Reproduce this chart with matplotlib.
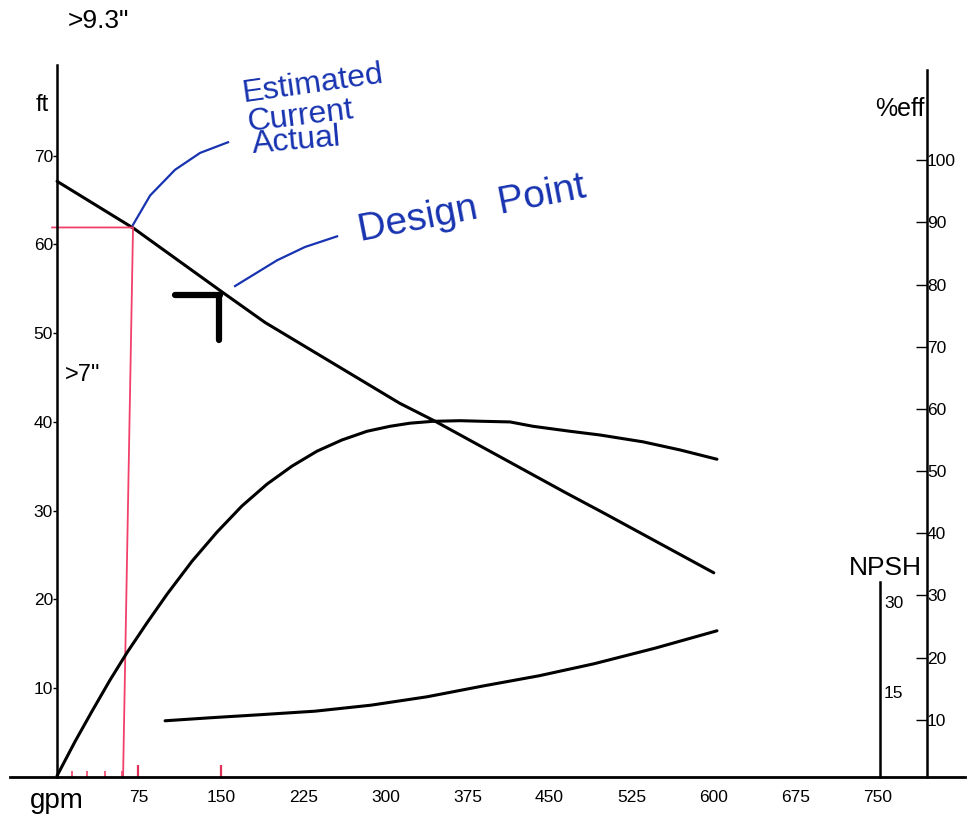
import matplotlib.pyplot as plt

plt.rcParams['font.family'] = ['Liberation Sans', 'DejaVu Sans']

# eixo x (gpm)
gpm_ticks = [75, 150, 225, 300, 375, 450, 525, 600, 675, 750]
ft_ticks = [10, 20, 30, 40, 50, 60, 70]
eff_ticks = [10, 20, 30, 40, 50, 60, 70, 80, 90, 100]
npsh_ticks = [15, 30]

# curva de altura (ft)
head_gpm = [0, 70, 150, 190, 313, 345, 465, 500, 600]
head_ft = [67.1, 61.8, 54.7, 51.2, 42.1, 40.1, 32.0, 29.7, 23.0]

# curva de eficiencia (%)
eff_gpm = [0, 16.4, 32.0, 48.4, 63.9, 82.2, 100.5, 123.3, 146.2, 169.0, 191.8, 214.7,
           237.5, 260.3, 283.2, 304.2, 322.5, 343.5, 368.2, 389.2, 413.8, 434.8,
           468.6, 496.0, 535.3, 569.1, 602.9]
eff_pct = [1.0, 6.5, 11.4, 16.4, 20.8, 25.6, 30.2, 35.5, 40.2, 44.4, 47.9, 50.8,
           53.2, 55.0, 56.4, 57.2, 57.7, 58.0, 58.1, 58.0, 57.9, 57.2,
           56.4, 55.8, 54.7, 53.4, 51.9]

# curva NPSH (ft)
npsh_gpm = [98.7, 139.8, 184.5, 235.7, 286.8, 338.0, 389.2, 440.3, 490.5, 546.3, 602.9]
npsh_ft = [10.2, 10.7, 11.2, 11.8, 12.8, 14.2, 16.0, 17.7, 19.7, 22.3, 25.2]

# marcas a mao
red_gpm = [-4.5, 69.4, 60.3]
red_ft = [61.9, 61.9, 0]
red_small_ticks = [14, 27, 44, 59]
red_big_ticks = [74, 150]
tee_h_gpm = [108, 149]
tee_h_ft = [54.3, 54.3]
tee_v_gpm = [148, 148]
tee_v_ft = [54.3, 49.2]
lead1_gpm = [69.4, 85.0, 107.8, 130.7, 156.2]
lead1_ft = [62.2, 65.5, 68.4, 70.3, 71.5]
lead2_gpm = [162.6, 201.0, 226.5, 255.8]
lead2_ft = [55.3, 58.2, 59.7, 60.9]

fig = plt.figure(figsize=(9.72, 8.15), dpi=100)
ax = fig.add_axes([10 / 972, 38 / 815, 955 / 972, 712 / 815])
ax.set_xlim(-43, 829.5)
ax.set_ylim(0, 80.2)

for s in ['top', 'right']:
    ax.spines[s].set_visible(False)
ax.spines['left'].set_position(('data', 0))
ax.spines['left'].set_linewidth(1.8)
ax.spines['bottom'].set_linewidth(2.0)

ax.set_xticks(gpm_ticks)
ax.set_xticklabels([str(v) for v in gpm_ticks], fontsize=12.5)
ax.tick_params(axis='x', length=0, pad=9)
ax.set_yticks(ft_ticks)
ax.set_yticklabels([str(v) for v in ft_ticks], fontsize=12.5)
ax.tick_params(axis='y', length=3, width=1, pad=0, direction='out')

ax.plot(head_gpm, head_ft, color='black', lw=2.2, solid_capstyle='round')

# eixo %eff
ax2 = ax.twinx()
ax2.set_ylim(0.8, 115.3)
for s in ['top', 'left', 'bottom']:
    ax2.spines[s].set_visible(False)
ax2.spines['right'].set_position(('data', 794.7))
ax2.spines['right'].set_bounds(0.8, 114.5)
ax2.spines['right'].set_linewidth(1.8)
ax2.set_yticks(eff_ticks)
ax2.set_yticklabels([str(v) for v in eff_ticks], fontsize=12.5)
ax2.tick_params(axis='y', direction='in', length=8, width=1, pad=0)
ax2.plot(eff_gpm, eff_pct, color='black', lw=2.2, solid_capstyle='round')

# eixo NPSH
ax3 = ax.twinx()
ax3.set_ylim(0.83, 119.5)
for s in ['top', 'left', 'bottom']:
    ax3.spines[s].set_visible(False)
ax3.spines['right'].set_position(('data', 751.8))
ax3.spines['right'].set_bounds(0.83, 33.3)
ax3.spines['right'].set_linewidth(1.8)
ax3.set_yticks(npsh_ticks)
ax3.set_yticklabels([str(v) for v in npsh_ticks], fontsize=12.5)
ax3.tick_params(axis='y', length=0, pad=3)
ax3.plot(npsh_gpm, npsh_ft, color='black', lw=2.2, solid_capstyle='round')

# linhas vermelhas e marca do ponto de projeto
ax.plot(red_gpm, red_ft, color='#f2406a', lw=1.3)
ax.vlines(red_small_ticks, 0, 0.7, color='#f2406a', lw=1.2)
ax.vlines(red_big_ticks, -0.4, 1.3, color='#e0305a', lw=1.6)
ax.plot(tee_h_gpm, tee_h_ft, color='black', lw=4.5, solid_capstyle='round')
ax.plot(tee_v_gpm, tee_v_ft, color='black', lw=4.5, solid_capstyle='round')

blue = '#1733b0'
ax.plot(lead1_gpm, lead1_ft, color=blue, lw=1.6)
ax.plot(lead2_gpm, lead2_ft, color=blue, lw=1.6)
ax.text(233.9, 78.0, 'Estimated', color=blue, fontsize=23, rotation=8,
        ha='center', va='center', clip_on=False)
ax.text(222.0, 74.4, 'Current', color=blue, fontsize=23, rotation=7,
        ha='center', va='center')
ax.text(219.2, 71.6, 'Actual', color=blue, fontsize=23, rotation=5,
        ha='center', va='center')
ax.text(379.1, 63.9, 'Design  Point', color=blue, fontsize=28, rotation=11,
        ha='center', va='center')

# rotulos
ax.text(10, 85.2, '>9.3"', fontsize=19, ha='left', va='center', clip_on=False)
ax.text(-20, 75.7, 'ft', fontsize=17, ha='left', va='center')
ax.text(7.3, 45.3, '>7"', fontsize=17, ha='left', va='center')
ax.text(-24.7, -2.7, 'gpm', fontsize=20, ha='left', va='center', clip_on=False)
ax.text(793, 75.3, '%eff', fontsize=18, ha='right', va='center')
ax.text(790, 23.5, 'NPSH', fontsize=19, ha='right', va='center')

fig.savefig('out.png', dpi=100)
